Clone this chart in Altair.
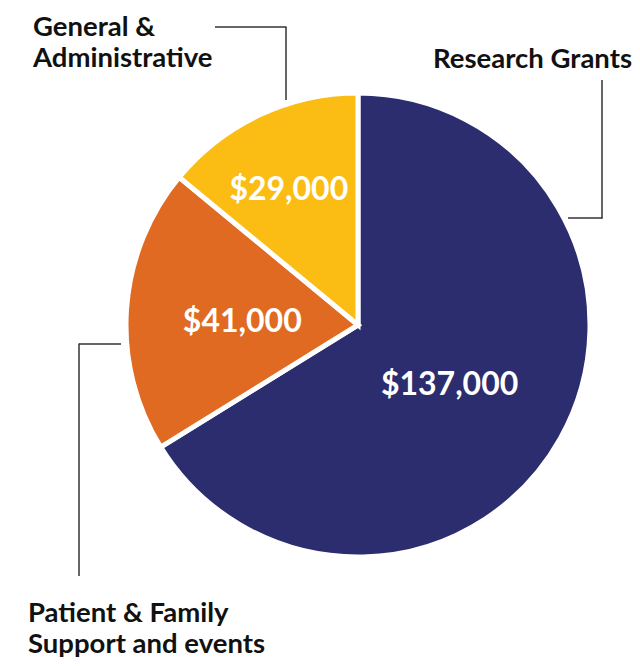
import altair as alt
import pandas as pd

categories = ["Research Grants", "Patient & Family Support and events", "General & Administrative"]
amounts = [137000, 41000, 29000]
value_labels = ["$137,000", "$41,000", "$29,000"]
display_labels = ["Research Grants", "Patient & Family\nSupport and events", "General &\nAdministrative"]
colors = ["#2b2d6f", "#e06a22", "#fbbd13"]

df = pd.DataFrame({
    "category": categories,
    "amount": amounts,
    "value_label": value_labels,
    "idx": list(range(len(categories))),
})

CX, CY = 350, 317
FONT = "Lato"

base = alt.Chart(df).encode(
    theta=alt.Theta("amount:Q", stack=True),
    order=alt.Order("idx:Q"),
)

arcs = base.mark_arc(outerRadius=232, stroke="white", strokeWidth=5).encode(
    x=alt.value(CX), y=alt.value(CY),
    color=alt.Color("category:N", scale=alt.Scale(domain=categories, range=colors), legend=None),
)

def value_layer(cat, r, dx, dy):
    return base.mark_text(radius=r, font=FONT, fontWeight="bold", fontSize=32,
                          color="white", align="center", baseline="middle",
                          dx=dx, dy=dy).encode(
        x=alt.value(CX), y=alt.value(CY),
        text=alt.condition(alt.datum.category == cat, alt.Text("value_label:N"), alt.value("")),
    )

vals = [value_layer(categories[0], 106, -1, 8),
        value_layer(categories[1], 116, 0, 5),
        value_layer(categories[2], 153, -4, 3)]

one = alt.Data(values=[{}])

def rule(x1, y1, x2, y2):
    return alt.Chart(one).mark_rule(color="#333333", strokeWidth=1.5).encode(
        x=alt.value(x1), y=alt.value(y1), x2=alt.value(x2), y2=alt.value(y2))

rules = [
    rule(207, 19, 278.5, 19), rule(278, 19, 278, 92),
    rule(594, 72, 594, 210.5), rule(560, 210, 594.5, 210),
    rule(71, 336, 113, 336), rule(71, 335.5, 71, 568),
]

def label(text, x, y, align):
    return alt.Chart(one).mark_text(text=text, font=FONT, fontWeight="bold", fontSize=27.5,
                                    color="#111111", align=align, baseline="alphabetic",
                                    lineBreak="\n", lineHeight=31).encode(
        x=alt.value(x), y=alt.value(y))

labels = [
    label(display_labels[2], 25, 28, "left"),
    label(display_labels[0], 624, 60, "right"),
    label(display_labels[1], 20, 614, "left"),
]

chart = alt.layer(arcs, *vals, *rules, *labels).properties(
    width=624, height=650, padding=0, autosize="none"
).configure_view(stroke=None)

chart.save("out.html", embed_options={"renderer": "svg", "actions": False})
